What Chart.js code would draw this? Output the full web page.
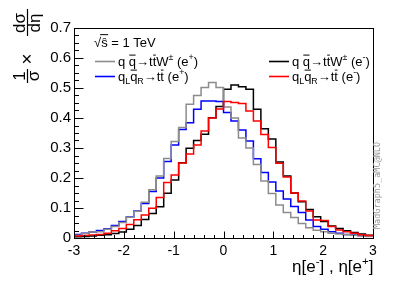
<!DOCTYPE html>
<html>
<head>
<meta charset="utf-8">
<script src="https://cdn.jsdelivr.net/npm/chart.js@4.4.1/dist/chart.umd.min.js"></script>
<style>
  html, body { margin: 0; padding: 0; background: #fff; }
  canvas { display: block; }
</style>
</head>
<body>
<canvas id="etaChart" width="415" height="281"></canvas>
<script>
// eta bin edges (40 bins)
const binEdges = [-3, -2.85, -2.7, -2.55, -2.4, -2.25, -2.1, -1.95, -1.8, -1.65,
  -1.5, -1.35, -1.2, -1.05, -0.9, -0.75, -0.6, -0.45, -0.3, -0.15,
  0, 0.15, 0.3, 0.45, 0.6, 0.75, 0.9, 1.05, 1.2, 1.35,
  1.5, 1.65, 1.8, 1.95, 2.1, 2.25, 2.4, 2.55, 2.7, 2.85, 3];

// q qbar -> t tbar W (e+)  (gray)
const ttwPlus = [0.009, 0.015, 0.020, 0.021, 0.029, 0.038, 0.052, 0.069, 0.089, 0.119,
  0.161, 0.207, 0.265, 0.322, 0.368, 0.446, 0.475, 0.502, 0.518, 0.502,
  0.437, 0.400, 0.333, 0.300, 0.245, 0.190, 0.148, 0.110, 0.085, 0.068,
  0.048, 0.034, 0.026, 0.021, 0.016, 0.013, 0.011, 0.009, 0.007, 0.005];

// q qbar -> t tbar W (e-)  (black)
const ttwMinus = [0.004, 0.005, 0.007, 0.009, 0.011, 0.015, 0.020, 0.029, 0.042, 0.062,
  0.082, 0.104, 0.149, 0.193, 0.251, 0.299, 0.325, 0.346, 0.401, 0.438,
  0.496, 0.510, 0.504, 0.496, 0.429, 0.364, 0.330, 0.253, 0.207, 0.150,
  0.121, 0.095, 0.071, 0.055, 0.040, 0.032, 0.024, 0.018, 0.013, 0.009];

// qL qbarR -> t tbar (e+)  (blue)
const ttPlus = [0.012, 0.016, 0.020, 0.025, 0.031, 0.042, 0.055, 0.070, 0.090, 0.115,
  0.155, 0.200, 0.255, 0.310, 0.362, 0.384, 0.429, 0.457, 0.457, 0.455,
  0.418, 0.390, 0.360, 0.323, 0.264, 0.218, 0.187, 0.157, 0.130, 0.105,
  0.085, 0.060, 0.038, 0.029, 0.021, 0.016, 0.012, 0.010, 0.008, 0.007];

// qL qbarR -> t tbar (e-)  (red)
const ttMinus = [0.007, 0.008, 0.010, 0.012, 0.016, 0.024, 0.032, 0.045, 0.061, 0.077,
  0.099, 0.135, 0.185, 0.210, 0.250, 0.280, 0.310, 0.357, 0.400, 0.430,
  0.455, 0.452, 0.448, 0.423, 0.390, 0.345, 0.302, 0.249, 0.203, 0.150,
  0.123, 0.090, 0.060, 0.058, 0.038, 0.027, 0.021, 0.016, 0.011, 0.008];

const xTicks = [-3, -2, -1, 0, 1, 2, 3];
const yTicks = [0, 0.1, 0.2, 0.3, 0.4, 0.5, 0.6, 0.7];

const FONT = "'Liberation Sans', Arial, Helvetica, sans-serif";

// histogram outline: one point per left edge, last value repeated at x = 3
const toSteps = (vals) => binEdges.map((e, i) => ({ x: e, y: vals[Math.min(i, vals.length - 1)] }));

const histSet = (vals, color, order) => ({
    data: toSteps(vals),
    borderColor: color,
    borderWidth: 1.5,
    stepped: true,
    pointRadius: 0,
    fill: false,
    order: order
});

// text with bars / sub / superscripts, parts = [[text, kind], ...]
function richText(ctx, x, y, parts, size) {
    let cx = x;
    for (const [t, kind] of parts) {
        const small = kind === 'sup' || kind === 'sub';
        const fs = small ? size * 0.68 : size;
        ctx.font = fs + 'px ' + FONT;
        const dy = kind === 'sup' ? -size * 0.42 : (kind === 'sub' ? size * 0.3 : 0);
        ctx.fillText(t, cx, y + dy);
        const w = ctx.measureText(t).width;
        if (kind === 'bar') {
            ctx.beginPath();
            ctx.lineWidth = 1;
            ctx.moveTo(cx + 0.5, y - size * 0.8);
            ctx.lineTo(cx + w - 0.5, y - size * 0.8);
            ctx.stroke();
        }
        cx += w;
    }
    return cx;
}

const rootFrame = {
    id: 'rootFrame',
    afterDraw(chart) {
        const { ctx, chartArea: a, scales: { x, y } } = chart;
        ctx.save();
        ctx.strokeStyle = '#000';
        ctx.fillStyle = '#000';
        ctx.lineWidth = 1;
        const L = Math.round(a.left) + 0.5, R = Math.round(a.right) + 0.5;
        const T = Math.round(a.top) + 0.5, B = Math.round(a.bottom) + 0.5;
        ctx.strokeRect(L, T, R - L, B - T);

        // inward tick marks
        ctx.beginPath();
        for (let i = 0; i <= 30; i++) {
            const px = Math.round(x.getPixelForValue(-3 + i * 0.2)) + 0.5;
            const len = i % 5 === 0 ? 7 : 3.5;
            ctx.moveTo(px, B);
            ctx.lineTo(px, B - len);
        }
        for (let i = 0; i <= 28; i++) {
            const py = Math.round(y.getPixelForValue(i * 0.025)) + 0.5;
            const len = i % 4 === 0 ? 9 : 4.5;
            ctx.moveTo(L, py);
            ctx.lineTo(L + len, py);
        }
        ctx.stroke();

        // legend
        const fs = 13;
        ctx.textBaseline = 'alphabetic';
        ctx.textAlign = 'left';
        ctx.font = fs + 'px ' + FONT;
        const sq = richText(ctx, 94, 47, [['\u221A', '']], fs);
        const sEnd = richText(ctx, sq, 47, [['\u015D', '']], fs);
        ctx.beginPath();
        ctx.moveTo(sq - 1, 47 - fs * 0.95);
        ctx.lineTo(sEnd + 0.5, 47 - fs * 0.95);
        ctx.stroke();
        richText(ctx, sEnd, 47, [[' = 1 TeV', '']], fs);

        const entries = [
            { x: 95, y: 61, color: '#8c8c8c', parts: [['q ', ''], ['q', 'bar'], ['\u2192t', ''], ['t', 'bar'], ['W', ''], ['\u00B1', 'sup'], [' (e', ''], ['+', 'sup'], [')', '']] },
            { x: 95, y: 76, color: '#0000ff', parts: [['q', ''], ['L', 'sub'], ['q', 'bar'], ['R', 'sub'], ['\u2192t', ''], ['t', 'bar'], [' (e', ''], ['+', 'sup'], [')', '']] },
            { x: 269, y: 61, color: '#000', parts: [['q ', ''], ['q', 'bar'], ['\u2192t', ''], ['t', 'bar'], ['W', ''], ['\u00B1', 'sup'], [' (e', ''], ['-', 'sup'], [')', '']] },
            { x: 269, y: 76, color: '#ff0000', parts: [['q', ''], ['L', 'sub'], ['q', 'bar'], ['R', 'sub'], ['\u2192t', ''], ['t', 'bar'], [' (e', ''], ['-', 'sup'], [')', '']] }
        ];
        for (const e of entries) {
            ctx.strokeStyle = e.color;
            ctx.lineWidth = 1.6;
            ctx.beginPath();
            ctx.moveTo(e.x, e.y + 0.5);
            ctx.lineTo(e.x + 20, e.y + 0.5);
            ctx.stroke();
            ctx.strokeStyle = '#000';
            ctx.fillStyle = '#000';
            richText(ctx, e.x + 23, e.y + 4.5, e.parts, fs);
        }

        // x axis title, right aligned at frame end
        const xParts = [['\u03B7[e', ''], ['-', 'sup'], ['] , \u03B7[e', ''], ['+', 'sup'], [']', '']];
        const probe = document.createElement('canvas').getContext('2d');
        let w = 0;
        for (const [t, k] of xParts) {
            probe.font = ((k === 'sup') ? 17 * 0.68 : 17) + 'px ' + FONT;
            w += probe.measureText(t).width;
        }
        richText(ctx, R - w, 272, xParts, 17);

        // y axis title: 1/sigma x dsigma/deta, rotated
        ctx.save();
        ctx.translate(27, 84);
        ctx.rotate(-Math.PI / 2);
        ctx.font = '17px ' + FONT;
        ctx.textAlign = 'center';
        ctx.lineWidth = 1.2;
        ctx.fillText('1', 8, -2);
        ctx.fillText('\u03C3', 8, 12);
        ctx.beginPath(); ctx.moveTo(1, 0.5); ctx.lineTo(15, 0.5); ctx.stroke();
        ctx.textBaseline = 'middle';
        ctx.font = '19px ' + FONT;
        ctx.fillText('\u00D7', 25, 1);
        ctx.font = '17px ' + FONT;
        ctx.textBaseline = 'alphabetic';
        ctx.fillText('d\u03C3', 61, -2);
        ctx.fillText('d\u03B7', 61, 13);
        ctx.beginPath(); ctx.moveTo(48, 0.5); ctx.lineTo(75, 0.5); ctx.stroke();
        ctx.restore();

        // generator tag on the right
        ctx.save();
        ctx.translate(380, 229);
        ctx.rotate(-Math.PI / 2);
        ctx.font = "8.5px 'DejaVu Sans Mono', monospace";
        ctx.fillStyle = '#999999';
        ctx.textAlign = 'left';
        ctx.fillText('MadGraph5_aMC@NLO', 0, 0);
        ctx.restore();

        ctx.restore();
    }
};

new Chart(document.getElementById('etaChart'), {
    type: 'line',
    data: {
        datasets: [
            histSet(ttMinus, '#ff0000', 0),
            histSet(ttwPlus, '#8c8c8c', 1),
            histSet(ttwMinus, '#000000', 2),
            histSet(ttPlus, '#0000ff', 3)
        ]
    },
    options: {
        responsive: false,
        animation: false,
        devicePixelRatio: 1,
        layout: { padding: { top: 28, right: 42, left: 0, bottom: 0 } },
        plugins: { legend: { display: false }, tooltip: { enabled: false } },
        scales: {
            x: {
                type: 'linear',
                min: -3,
                max: 3,
                grid: { display: false, drawTicks: false },
                border: { display: false },
                afterBuildTicks: (s) => { s.ticks = xTicks.map(v => ({ value: v })); },
                afterFit: (s) => { s.height = 43; },
                ticks: {
                    padding: 5,
                    autoSkip: false,
                    maxRotation: 0,
                    color: '#000',
                    font: { family: FONT, size: 14 },
                    callback: (v) => String(v)
                }
            },
            y: {
                type: 'linear',
                min: 0,
                max: 0.7,
                grid: { display: false, drawTicks: false },
                border: { display: false },
                afterBuildTicks: (s) => { s.ticks = yTicks.map(v => ({ value: v })); },
                afterFit: (s) => { s.width = 74; },
                ticks: {
                    padding: 3,
                    color: '#000',
                    font: { family: FONT, size: 15 },
                    callback: (v) => v === 0 ? '0' : v.toFixed(1)
                }
            }
        }
    },
    plugins: [rootFrame]
});
</script>
</body>
</html>
